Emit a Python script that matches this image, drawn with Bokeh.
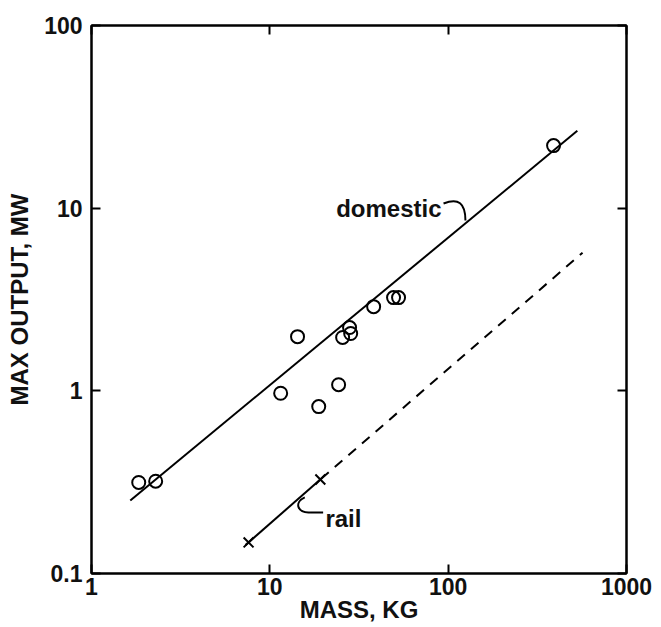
from bokeh.plotting import figure
from bokeh.models import FixedTicker, LogAxis
from bokeh.embed import file_html
from bokeh.resources import INLINE
from bokeh.core.properties import value

# ---- data ----
x_ticks = [1, 10, 100, 1000]
x_tick_labels = ["1", "10", "100", "1000"]
y_ticks = [0.1, 1, 10, 100]
y_tick_labels = ["0.1", "1", "10", "100"]

domestic_mass = [1.84, 2.29, 11.5, 14.3, 18.8, 24.3, 25.6, 28.4, 28.0, 38.2, 49.4, 52.7, 390]
domestic_output = [0.315, 0.32, 0.97, 1.98, 0.82, 1.08, 1.96, 2.06, 2.22, 2.89, 3.24, 3.24, 22.0]

domestic_fit_mass = [1.65, 530]
domestic_fit_output = [0.251, 26.5]

rail_mass = [7.6, 19.2]
rail_output = [0.148, 0.327]
rail_solid_mass = [7.3, 19.4]
rail_solid_output = [0.143, 0.33]
rail_dash_mass = [19.4, 567]
rail_dash_output = [0.33, 5.7]

# annotation anchors (data units)
domestic_label = dict(x=91.8, y=9.95, text="domestic")
domestic_hook = dict(x0=94.2, y0=10.6, cx0=114, cy0=11.4, cx1=125, cy1=10.7, x1=125, y1=8.55)
rail_label = dict(x=20.5, y=0.2, text="rail")
rail_hook = dict(x0=15.7, y0=0.261, cx0=13.6, cy0=0.245, cx1=14.3, cy1=0.214, x1=16.8, y1=0.216)
rail_dash_tail = dict(x=[16.8, 19.9], y=[0.216, 0.216])

FONT = "Liberation Sans"

p = figure(width=661, height=627, x_axis_type="log", y_axis_type="log",
           x_range=(1, 1000), y_range=(0.1, 100),
           output_backend="svg", toolbar_location=None,
           min_border_left=91, min_border_right=35, min_border_top=25, min_border_bottom=54)
p.grid.visible = False
p.outline_line_color = "black"
p.outline_line_width = 2
p.background_fill_color = "white"
p.border_fill_color = "white"

def style_axis(ax, ticks, labels, show_labels, standoff):
    ax.ticker = FixedTicker(ticks=ticks, minor_ticks=[])
    ax.major_tick_in = 9
    ax.major_tick_out = 0
    ax.major_tick_line_width = 2
    ax.major_tick_line_color = "black"
    ax.minor_tick_line_color = None
    ax.axis_line_width = 2
    ax.axis_line_color = "black"
    ax.major_label_standoff = standoff
    ax.major_label_overrides = dict(zip(ticks, labels))
    if show_labels:
        ax.major_label_text_font = FONT
        ax.major_label_text_font_style = "bold"
        ax.major_label_text_font_size = "23px"
        ax.major_label_text_color = "#111111"
    else:
        ax.major_label_text_font_size = "6px"
        ax.major_label_text_color = None

style_axis(p.xaxis[0], x_ticks, x_tick_labels, True, 4)
style_axis(p.yaxis[0], y_ticks, y_tick_labels, True, 9)
p.xaxis[0].axis_label = "MASS, KG"
p.yaxis[0].axis_label = "MAX OUTPUT, MW"
for ax in (p.xaxis[0], p.yaxis[0]):
    ax.axis_label_text_font = FONT
    ax.axis_label_text_font_style = "bold"
    ax.axis_label_text_font_size = "24px"
    ax.axis_label_text_color = "#111111"
p.xaxis[0].axis_label_standoff = -2
p.yaxis[0].axis_label_standoff = 8

top = LogAxis()
right = LogAxis()
style_axis(top, x_ticks, x_tick_labels, False, 0)
style_axis(right, y_ticks, y_tick_labels, False, 0)
p.add_layout(top, "above")
p.add_layout(right, "right")

# lines
p.line(domestic_fit_mass, domestic_fit_output, line_color="black", line_width=2)
p.line(rail_solid_mass, rail_solid_output, line_color="black", line_width=2)
p.line(rail_dash_mass, rail_dash_output, line_color="black", line_width=2, line_dash="10 8")

# markers
p.scatter(domestic_mass, domestic_output, marker="circle", size=13,
          fill_color=None, line_color="black", line_width=2)
p.scatter(rail_mass, rail_output, marker="x", size=14, line_color="black", line_width=2)

# labels & leaders
p.text(x=[domestic_label["x"]], y=[domestic_label["y"]], text=[domestic_label["text"]],
       text_font=value(FONT), text_font_style="bold", text_font_size="24px",
       text_align="right", text_baseline="alphabetic", text_color="#111111")
p.text(x=[rail_label["x"]], y=[rail_label["y"]], text=[rail_label["text"]],
       text_font=value(FONT), text_font_style="bold", text_font_size="24px",
       text_align="left", text_baseline="alphabetic", text_color="#111111")
p.bezier(x0=[domestic_hook["x0"]], y0=[domestic_hook["y0"]], x1=[domestic_hook["x1"]], y1=[domestic_hook["y1"]],
         cx0=[domestic_hook["cx0"]], cy0=[domestic_hook["cy0"]], cx1=[domestic_hook["cx1"]], cy1=[domestic_hook["cy1"]],
         line_color="black", line_width=2)
p.bezier(x0=[rail_hook["x0"]], y0=[rail_hook["y0"]], x1=[rail_hook["x1"]], y1=[rail_hook["y1"]],
         cx0=[rail_hook["cx0"]], cy0=[rail_hook["cy0"]], cx1=[rail_hook["cx1"]], cy1=[rail_hook["cy1"]],
         line_color="black", line_width=2)
p.line(rail_dash_tail["x"], rail_dash_tail["y"], line_color="black", line_width=2)

open("out.html", "w").write(file_html(p, INLINE))
